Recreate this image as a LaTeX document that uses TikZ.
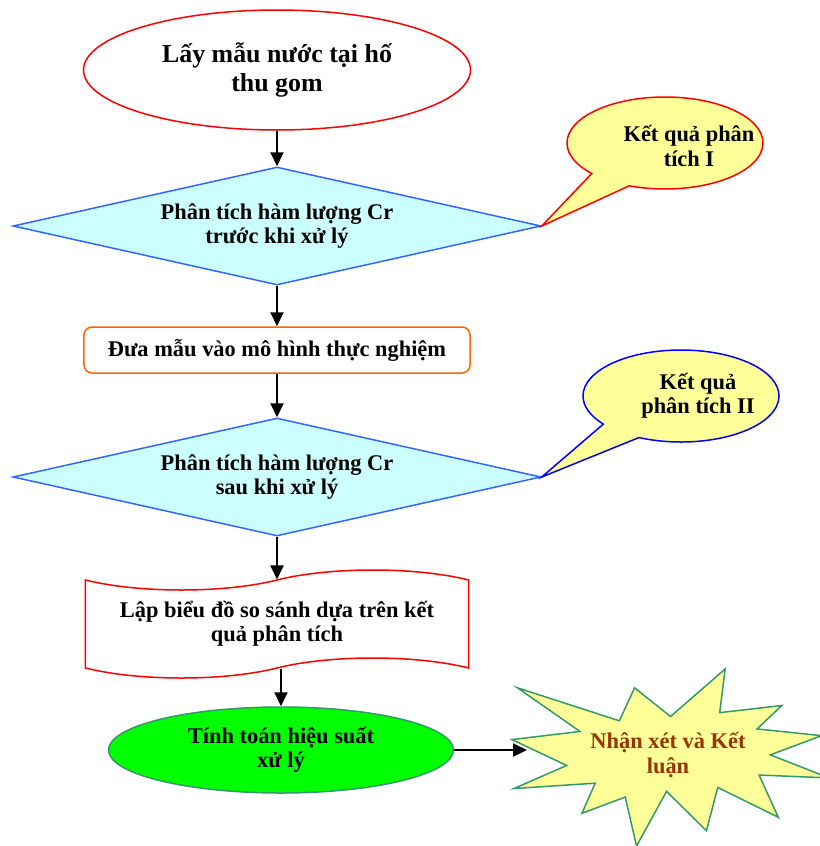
\documentclass[tikz,border=0pt]{standalone}
\usepackage{fontspec}
\setmainfont{Liberation Serif}
\usetikzlibrary{shapes.geometric, shapes.callouts, shapes.symbols, arrows.meta, positioning}

\definecolor{cyanfill}{HTML}{CCFFFF}
\definecolor{lineblue}{HTML}{3366FF}
\definecolor{noteyellow}{HTML}{FFFF99}
\definecolor{orangeline}{HTML}{FF6600}
\definecolor{sealgreen}{HTML}{339966}
\definecolor{brightgreen}{HTML}{00FF00}
\definecolor{darkbrown}{HTML}{993300}

\begin{document}
\begin{tikzpicture}[
            x=1bp, y=-1bp,
            txt/.style={
                    font=\bfseries\fontsize{22.5}{24.5}\selectfont,
                    align=center,
                    inner sep=0pt
                },
            start/.style={
                    ellipse,
                    txt,
                    line width=1.5bp,
                    draw=red,
                    fill=white,
                    minimum width=387bp,
                    minimum height=120bp,
                    font=\bfseries\fontsize{26}{30}\selectfont
                },
            decision/.style={
                    diamond,
                    txt,
                    aspect=4.47,
                    line width=1.5bp,
                    draw=lineblue,
                    fill=cyanfill,
                    minimum width=528bp,
                    minimum height=118bp
                },
            note/.style={
                    ellipse callout,
                    line width=1.5bp,
                    fill=noteyellow,
                    minimum width=196bp,
                    minimum height=92bp,
                    callout pointer arc=27,
                    inner sep=0pt
                },
            block/.style={
                    rectangle,
                    txt,
                    rounded corners=8bp,
                    line width=1.5bp,
                    draw=orangeline,
                    fill=white,
                    minimum width=386bp,
                    minimum height=46bp
                },
            wave/.style={
                    tape,
                    txt,
                    line width=1.5bp,
                    draw=red,
                    fill=white,
                    minimum width=383bp,
                    minimum height=108bp,
                    tape bend height=20bp
                },
            calc/.style={
                    ellipse,
                    txt,
                    line width=1.5bp,
                    draw=sealgreen,
                    fill=brightgreen,
                    minimum width=345bp,
                    minimum height=86bp
                },
            line/.style={
                    draw,
                    line width=2bp,
                    -{Triangle[length=14bp,width=13bp]}
                }
        ]
        \useasboundingbox (0,0) rectangle (820,846);

        % Nodes
        \node [start] (lay) at (277,70) {Lấy mẫu nước tại hố\\thu gom};
        \node [decision] (pt1) at (277,226) {Phân tích hàm lượng Cr\\trước khi xử lý};
        \node [block] (dua) at (277,350) {Đưa mẫu vào mô hình thực nghiệm};
        \node [decision] (pt2) at (277,477) {Phân tích hàm lượng Cr\\sau khi xử lý};
        \node [wave] (lap) at (277,624) {Lập biểu đồ so sánh dựa trên kết\\quả phân tích};
        \node [calc] (tinh) at (281,750) {Tính toán hiệu suất\\xử lý};

        % Callouts
        \node [note, draw=red, callout absolute pointer={(pt1.east)}] (kq1) at (665,143) {};
        \node [txt] (kq1txt) at (689,146) {Kết quả phân\\tích I};
        \node [note, draw=blue, callout absolute pointer={(pt2.east)}] (kq2) at (681,396) {};
        \node [txt] (kq2txt) at (698,396) {Kết quả\\phân tích II};

        % Explosion
        \begin{scope}[shift={(512,669)}, xscale=1.4676, yscale=0.8194]
            \draw [line width=1.5bp, draw=sealgreen, fill=noteyellow]
                (108,58) -- (145.22,0) -- (141.55,53.25) -- (183.8,44.57)
                -- (167.02,73.15) -- (210.97,81.37) -- (176.07,104.75) -- (216,132.9)
                -- (168.37,129.42) -- (181.45,180.95) -- (140.2,144.57) -- (132.47,197.37)
                -- (105.32,149.35) -- (84.85,216) -- (77.15,156.27) -- (47.62,176.17)
                -- (56.67,139.37) -- (1.35,145.87) -- (37.22,117.75) -- (0,86.15)
                -- (46.27,76.17) -- (3.7,22.95) -- (73.12,63.2) -- (83.52,22.95) -- cycle;
        \end{scope}
        \node [txt, text=darkbrown] (ket) at (668,755) {Nhận xét và Kết\\luận};
        \coordinate (ketin) at (527,750);

        % Arrows
        \path [line] (lay.south) -- (pt1.north);
        \path [line] (pt1.south) -- (dua.north);
        \path [line] (dua.south) -- (pt2.north);
        \path [line] (pt2.south) -- (lap.north);
        \path [line] (lap.south -| tinh.north) -- (tinh.north);
        \path [line] (tinh.east) -- (ketin);
    \end{tikzpicture}
\end{document}
